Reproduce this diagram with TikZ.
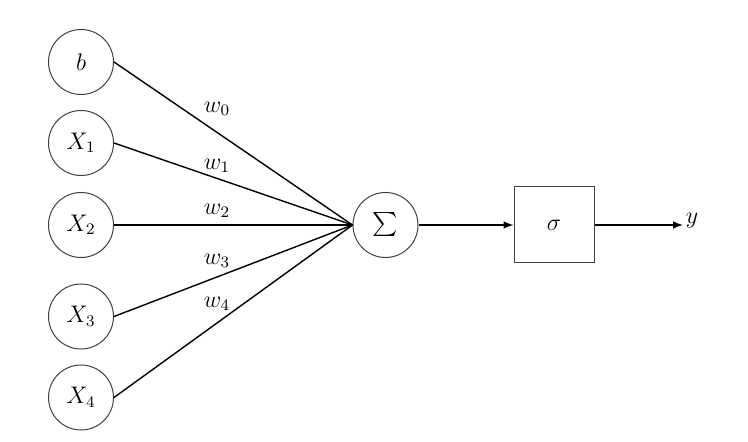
\documentclass[tikz,border=0pt]{standalone}
\usepackage{amsmath}
\tikzstyle{inp}=[circle,draw=black!75,line width=0.5pt,
  minimum size=32.5pt,inner sep=0pt,font=\large]
\tikzstyle{act}=[rectangle,draw=black!75,line width=0.5pt,
  minimum width=40pt,minimum height=38pt,inner sep=0pt,font=\large]
\tikzstyle{wlab}=[font=\large,inner sep=1pt]
\tikzstyle{wire}=[line width=0.7pt]
\begin{document}
\begin{tikzpicture}[x=0.5pt,y=-0.5pt]
    \useasboundingbox (0,0) rectangle (748,442);
    \node [style=inp] (b) at (81,62) {\(b\)};
    \node [style=inp] (x1) at (81,143) {\(X_1\)};
    \node [style=inp] (x2) at (81,225) {\(X_2\)};
    \node [style=inp] (x3) at (81,316.5) {\(X_3\)};
    \node [style=inp] (x4) at (81,397.5) {\(X_4\)};
    \node [style=inp] (sum) at (385.5,225) {\(\textstyle\sum\)};
    \node [style=act] (sig) at (554,225) {\(\sigma\)};
    \coordinate (yend) at (683,225);
    \node [style=wlab] (y) at (692,221) {\(y\)};
    \node [style=wlab] (w0) at (217,109) {\(w_0\)};
    \node [style=wlab] (w1) at (217,166) {\(w_1\)};
    \node [style=wlab] (w2) at (217,211) {\(w_2\)};
    \node [style=wlab] (w3) at (217,261) {\(w_3\)};
    \node [style=wlab] (w4) at (217,304) {\(w_4\)};
    \draw [style=wire] (b.east) to (sum.west);
    \draw [style=wire] (x1.east) to (sum.west);
    \draw [style=wire] (x2.east) to (sum.west);
    \draw [style=wire] (x3.east) to (sum.west);
    \draw [style=wire] (x4.east) to (sum.west);
    \draw [style=wire,-latex] (sum) to (sig);
    \draw [style=wire,-latex] (sig) to (yend);
  \end{tikzpicture}
\end{document}
